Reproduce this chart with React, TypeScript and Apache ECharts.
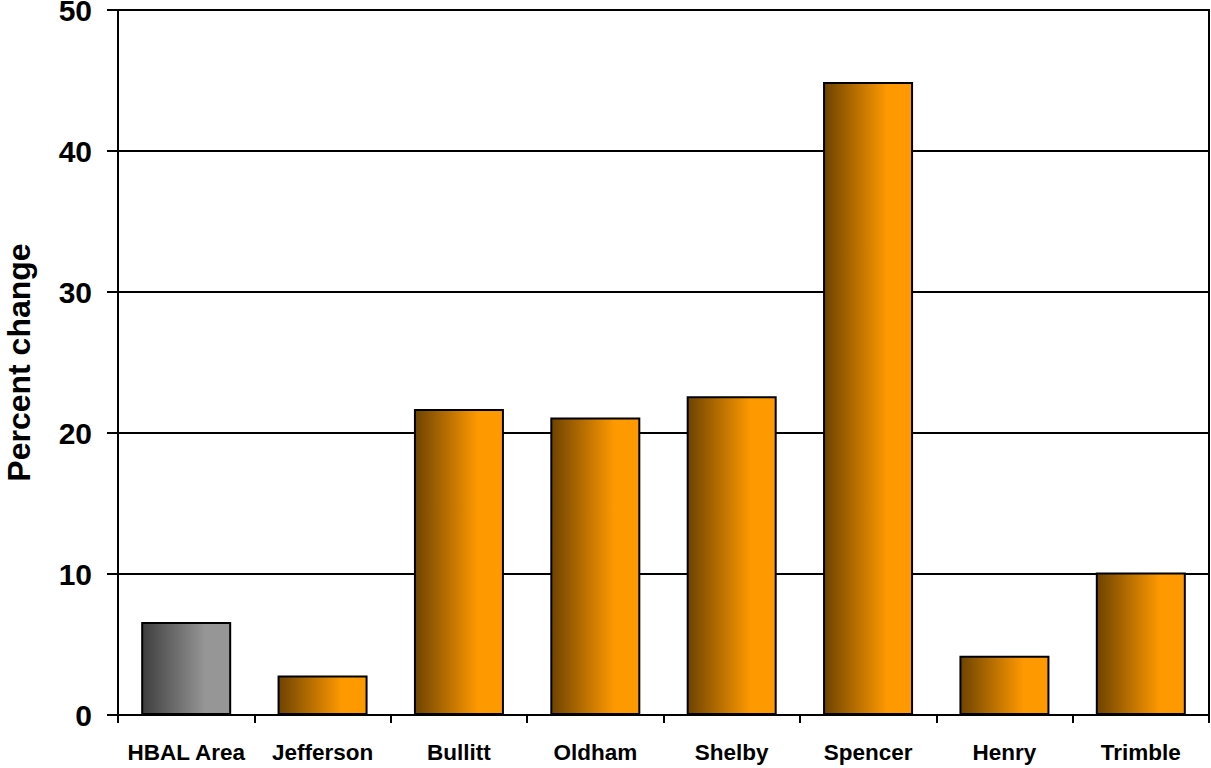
import React, { useEffect, useRef } from "react";
import * as echarts from "echarts";

const categories = ["HBAL Area", "Jefferson", "Bullitt", "Oldham", "Shelby", "Spencer", "Henry", "Trimble"];
const values = [6.6, 2.8, 21.7, 21.1, 22.6, 44.9, 4.2, 10.1];
const yTicks = [0, 10, 20, 30, 40, 50];
const yAxisName = "Percent change";

const orangeGrad = new echarts.graphic.LinearGradient(0, 0, 1, 0, [
  { offset: 0, color: "#6e4300" },
  { offset: 0.72, color: "#ff9900" },
  { offset: 1, color: "#ff9900" },
]);
const grayGrad = new echarts.graphic.LinearGradient(0, 0, 1, 0, [
  { offset: 0, color: "#3e3e3e" },
  { offset: 0.72, color: "#969696" },
  { offset: 1, color: "#969696" },
]);

export default function App() {
  const ref = useRef<HTMLDivElement>(null);
  useEffect(() => {
    if (!ref.current) return;
    const chart = echarts.init(ref.current, null, { renderer: "svg" });
    chart.setOption({
      animation: false,
      backgroundColor: "#ffffff",
      textStyle: { fontFamily: "Liberation Sans, Arial, sans-serif" },
      grid: {
        left: 118,
        right: 2,
        top: 10,
        bottom: 53,
        show: true,
        borderColor: "#000",
        borderWidth: 2,
        containLabel: false,
        outerBoundsMode: "none",
      },
      xAxis: {
        type: "category",
        data: categories,
        boundaryGap: true,
        axisLine: { show: true, lineStyle: { color: "#000", width: 2 } },
        axisTick: { show: true, length: 8, inside: false, lineStyle: { color: "#000", width: 2 } },
        axisLabel: {
          color: "#000",
          fontWeight: "bold",
          fontSize: 22.5,
          margin: 26,
          interval: 0,
          fontFamily: "Liberation Sans, Arial, sans-serif",
        },
      },
      yAxis: {
        type: "value",
        min: yTicks[0],
        max: yTicks[yTicks.length - 1],
        interval: 10,
        name: yAxisName,
        nameLocation: "middle",
        nameGap: 83,
        nameRotate: 90,
        nameTextStyle: {
          color: "#000",
          fontWeight: "bold",
          fontSize: 32,
          fontFamily: "Liberation Sans, Arial, sans-serif",
        },
        axisLine: { show: true, lineStyle: { color: "#000", width: 2 } },
        axisTick: { show: true, length: 11, inside: false, lineStyle: { color: "#000", width: 2 } },
        axisLabel: {
          color: "#000",
          fontWeight: "bold",
          fontSize: 30,
          margin: 26,
          fontFamily: "Liberation Sans, Arial, sans-serif",
        },
        splitLine: { show: true, lineStyle: { color: "#000", width: 2 } },
      },
      series: [
        {
          type: "bar",
          barCategoryGap: "34%",
          data: values.map((v, i) => ({
            value: v,
            itemStyle: {
              color: i === 0 ? grayGrad : orangeGrad,
              borderColor: "#000",
              borderWidth: 2,
            },
          })),
        },
      ],
    });
    return () => chart.dispose();
  }, []);
  return (
    <div
      ref={ref}
      style={{ position: "fixed", left: 0, top: 0, width: 1211, height: 768, background: "#fff" }}
    />
  );
}
